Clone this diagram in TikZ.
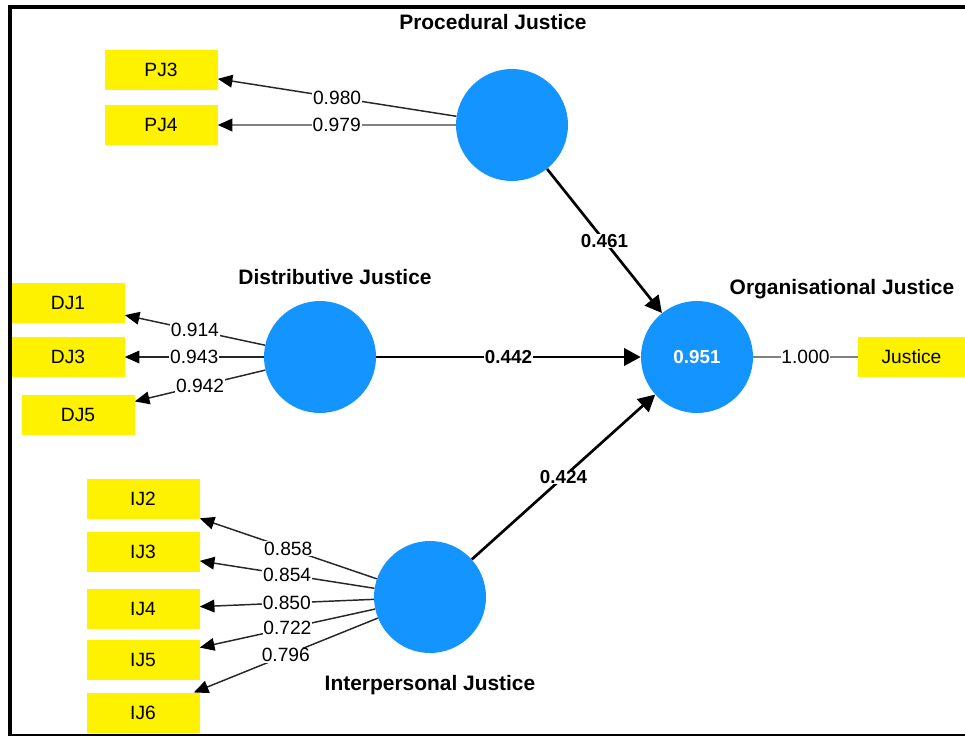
\documentclass[tikz,border=0pt]{standalone}
\usepackage{fontspec}
\setmainfont{Liberation Sans}
\usetikzlibrary{arrows.meta}
\definecolor{lvblue}{RGB}{20,148,255}

\begin{document}
\begin{tikzpicture}[x=0.75pt,y=-0.75pt,construct/.style={circle,fill=lvblue,minimum size=84pt,inner sep=0pt},item/.style={rectangle,fill=yellow,minimum width=84.75pt,minimum height=30.4pt,inner sep=0pt,font=\fontsize{14.4}{16}\selectfont},lvname/.style={font=\fontsize{15.7}{18}\selectfont\bfseries},loading/.style={draw=black!85,line width=1.1pt,-{Triangle[length=11pt,width=9.5pt,color=black]}},effect/.style={line width=2pt,-{Triangle[length=12.5pt,width=13pt]}},coef/.style={fill=white,inner sep=0.6pt,font=\fontsize{14.4}{16}\selectfont},bcoef/.style={fill=white,inner sep=0.6pt,font=\fontsize{14.1}{16}\selectfont\bfseries}]
\useasboundingbox (0,0) rectangle (965,736);
\draw[line width=3pt] (8.5,6.7) -- (965,6.7);
\draw[line width=3pt] (10,4.7) -- (10,735);
\draw[line width=1.5pt] (8,735) -- (965,735);
\node[construct] (pj) at (512,125) {};
\node[construct] (dj) at (320,357) {};
\node[construct] (oj) at (697,357) {\color{white}\fontsize{14.1}{16}\selectfont\bfseries 0.951};
\node[construct] (ij) at (430,597) {};
\node[lvname] (pjname) at (493,22) {Procedural Justice};
\node[lvname] (djname) at (335,277) {Distributive Justice};
\node[lvname] (ojname) at (842,289) {Organisational Justice};
\node[lvname] (ijname) at (430,685) {Interpersonal Justice};
\node[item] (pj3) at (161,70) {PJ3};
\node[item] (pj4) at (161,125) {PJ4};
\node[item] (dj1) at (68,303) {DJ1};
\node[item] (dj3) at (68,357) {DJ3};
\node[item] (dj5) at (78,415) {DJ5};
\node[item] (ij2) at (143,499) {IJ2};
\node[item] (ij3) at (143,552) {IJ3};
\node[item] (ij4) at (143,609) {IJ4};
\node[item] (ij5) at (143,660) {IJ5};
\node[item] (ij6) at (143,713) {IJ6};
\node[item,minimum width=80.25pt] (just) at (911.5,357) {Justice};
% outer loadings
\draw[loading] (pj) -- node[coef] {0.980} (pj3);
\draw[loading,draw=gray,line width=1.5pt] (pj) -- node[coef] {0.979} (pj4);
\draw[loading] (dj) -- node[coef] {0.914} (dj1);
\draw[loading] (dj) -- node[coef] {0.943} (dj3);
\draw[loading] (dj) -- node[coef] {0.942} (dj5);
\draw[loading] (ij) -- node[coef] {0.858} (ij2);
\draw[loading] (ij) -- node[coef] {0.854} (ij3);
\draw[loading] (ij) -- node[coef] {0.850} (ij4);
\draw[loading] (ij) -- node[coef] {0.722} (ij5);
\draw[loading] (ij) -- node[coef] {0.796} (ij6);
\draw[draw=gray,line width=1.3pt] (oj) -- node[coef] {1.000} (just);
% path coefficients
\draw[effect] (pj) -- node[bcoef] {0.461} (oj);
\draw[effect] (dj) -- node[bcoef] {0.442} (oj);
\draw[effect] (ij) -- node[bcoef] {0.424} (oj);
\end{tikzpicture}
\end{document}
